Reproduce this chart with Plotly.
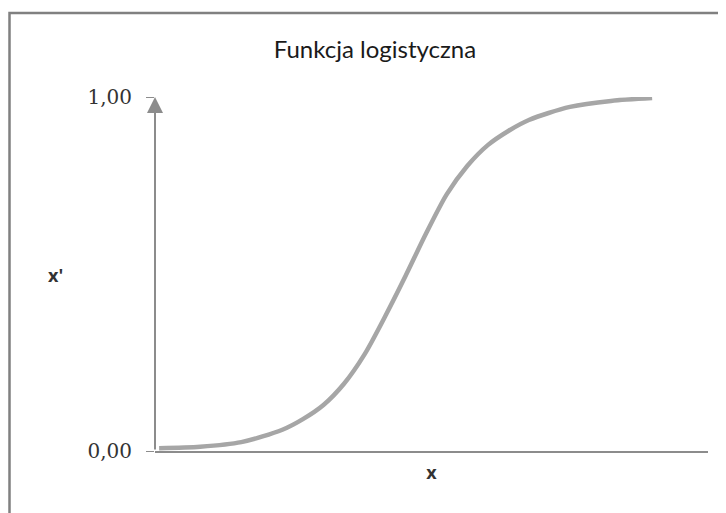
import plotly.graph_objects as go

# Data
x_vals = [-6, -5, -4, -3, -2.5, -2, -1.5, -1, -0.5, 0, 0.5, 1, 1.5, 2, 2.5, 3, 4, 5, 6]
y_vals = [0.008, 0.012, 0.025, 0.06, 0.09, 0.13, 0.19, 0.273, 0.38, 0.495, 0.615, 0.725, 0.805,
          0.864, 0.904, 0.935, 0.972, 0.989, 0.997]
y_ticks = [0, 1]
y_tick_labels = ["0,00", "1,00"]
title_text = "Funkcja logistyczna"
x_label = "x"
y_label = "x'"

x_range = [-6.1, 7.36]

# The page body has an 8px margin, so the figure is sized/placed to compensate
W, H = 718, 505
L, R, T, B = 147, 18, 89, 62
PW, PH = W - L - R, H - T - B

fig = go.Figure()
fig.add_trace(go.Scatter(
    x=x_vals, y=y_vals, mode="lines",
    line=dict(color="#a6a6a6", width=4.5, shape="spline", smoothing=0.8),
    hoverinfo="skip", showlegend=False,
))

fig.update_layout(
    width=W, height=H,
    margin=dict(l=L, r=R, t=T, b=B),
    paper_bgcolor="white", plot_bgcolor="white",
    showlegend=False,
    title=dict(text=title_text, x=367 / W, xanchor="center", xref="container",
               y=1 - 42 / H, yanchor="middle", yref="container",
               font=dict(family="Lato", size=24, color="#1a1a1a")),
    xaxis=dict(range=x_range, showgrid=False, zeroline=False, showticklabels=False,
               showline=True, linecolor="#8c8c8c", linewidth=1.5, ticks="",
               title=dict(text="<b>" + x_label + "</b>", standoff=15,
                          font=dict(family="Open Sans", size=18, color="#333333"))),
    yaxis=dict(range=[0, 1], tickvals=y_ticks, ticktext=y_tick_labels,
               showgrid=True, gridcolor="#8c8c8c", gridwidth=1,
               zeroline=False, showline=False, ticks="outside", ticklen=8,
               tickcolor="#8c8c8c", tickwidth=1, ticklabelstandoff=10,
               tickfont=dict(family="DejaVu Serif", size=20, color="#333333")),
)

# Y axis title, horizontal
fig.add_annotation(
    x=(47 - L) / PW, xref="paper", y=(H - B - 267) / PH, yref="paper",
    text="<b>" + y_label + "</b>", showarrow=False,
    xanchor="center", yanchor="middle",
    font=dict(family="Open Sans", size=18, color="#333333"),
)

# Y axis drawn as an arrow from 0 to 1
fig.add_annotation(
    x=0, xref="paper", y=1, yref="y",
    ax=0, axref="pixel", ay=0, ayref="y",
    showarrow=True, arrowhead=2, arrowsize=1.6, arrowwidth=2,
    arrowcolor="#8c8c8c", text="",
)

# Chart border (runs off right and bottom edges)
fig.add_shape(type="rect", xref="paper", yref="paper",
              x0=(1.5 - L) / PW, x1=(W + 30 - L) / PW,
              y0=-(B + 30) / PH, y1=(H - B - 5) / PH,
              line=dict(color="#808080", width=2.5), fillcolor="rgba(0,0,0,0)",
              layer="below")

fig.write_html("out.html")
